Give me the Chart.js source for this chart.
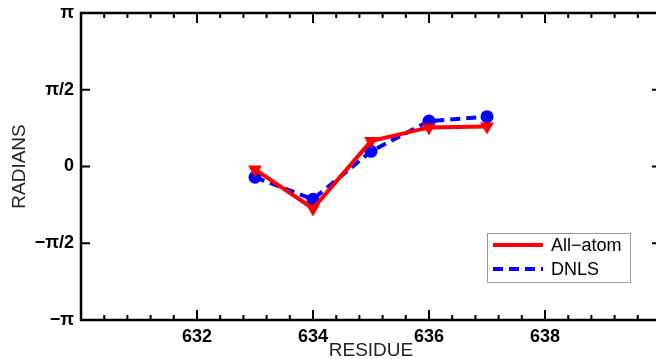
<!DOCTYPE html>
<html><head><meta charset="utf-8">
<script src="https://cdn.jsdelivr.net/npm/chart.js@4/dist/chart.umd.min.js"></script>
<style>html,body{margin:0;padding:0;overflow:hidden;background:#fff}canvas{display:block}</style>
</head><body>
<canvas id="c" width="680" height="359" style="width:680px;height:359px"></canvas>
<script>
const residues = [633, 634, 635, 636, 637];
const allAtom = [-0.06, -0.86, 0.52, 0.80, 0.82];
const dnls = [-0.22, -0.67, 0.31, 0.93, 1.02];
const xTickValues = [632, 634, 636, 638];
const yTickValues = [-Math.PI, -Math.PI/2, 0, Math.PI/2, Math.PI];
const yTickLabels = ['−π', '−π/2', '0', 'π/2', 'π'];
const seriesNames = ['All−atom', 'DNLS'];

const FONT = '"Liberation Sans", Arial, sans-serif';

const frame = {
  id: 'frame',
  afterDatasetsDraw(chart) {
    const ctx = chart.ctx, a = chart.chartArea;
    const xs = chart.scales.x, ys = chart.scales.y;
    ctx.save();
    ctx.strokeStyle = '#000';
    ctx.lineWidth = 2.5;
    ctx.strokeRect(a.left, a.top, a.right - a.left, a.bottom - a.top);
    ctx.lineWidth = 2;
    for (let i = 0; i <= 25; i++) {
      const v = 630 + i * 0.4;
      const px = xs.getPixelForValue(v);
      const major = i % 5 === 0;
      const len = major ? 10 : 5;
      ctx.beginPath();
      ctx.moveTo(px, a.bottom); ctx.lineTo(px, a.bottom - len);
      ctx.moveTo(px, a.top); ctx.lineTo(px, a.top + len);
      ctx.stroke();
    }
    yTickValues.forEach(v => {
      const py = ys.getPixelForValue(v);
      ctx.beginPath();
      ctx.moveTo(a.left, py); ctx.lineTo(a.left + 9, py);
      ctx.moveTo(a.right, py); ctx.lineTo(a.right - 9, py);
      ctx.stroke();
    });
    const bx = 487, by = 233, bw = 143, bh = 49;
    ctx.fillStyle = '#fff';
    ctx.fillRect(bx, by, bw, bh);
    ctx.strokeStyle = '#999';
    ctx.lineWidth = 1;
    ctx.strokeRect(bx + 0.5, by + 0.5, bw, bh);
    chart.data.datasets.forEach((ds, i) => {
      const y = 245 + i * 24;
      ctx.strokeStyle = ds.borderColor;
      ctx.lineWidth = 4;
      ctx.setLineDash(ds.borderDash || []);
      ctx.beginPath(); ctx.moveTo(493, y); ctx.lineTo(543, y); ctx.stroke();
      ctx.setLineDash([]);
      ctx.fillStyle = '#000';
      ctx.font = '18px ' + FONT;
      ctx.textBaseline = 'middle';
      ctx.fillText(ds.label, 551, y + 1);
    });
    ctx.restore();
  }
};

new Chart(document.getElementById('c'), {
  type: 'line',
  data: {
    datasets: [
      {
        label: seriesNames[0],
        data: residues.map((r, i) => ({x: r, y: allAtom[i]})),
        borderColor: '#ff0000', backgroundColor: '#ff0000',
        borderWidth: 4, pointStyle: 'triangle', rotation: 180,
        pointRadius: 8, pointBorderWidth: 0, tension: 0
      },
      {
        label: seriesNames[1],
        data: residues.map((r, i) => ({x: r, y: dnls[i]})),
        borderColor: '#0000ff', backgroundColor: '#0000ff',
        borderWidth: 4, borderDash: [10, 6], pointStyle: 'circle',
        pointRadius: 6.5, pointBorderWidth: 0, tension: 0
      }
    ]
  },
  options: {
    responsive: false, animation: false,
    layout: {padding: {top: 13, right: 19, left: 0, bottom: 0}},
    plugins: {legend: {display: false}, tooltip: {enabled: false}},
    scales: {
      x: {
        type: 'linear', min: 630, max: 640,
        grid: {display: false, drawTicks: false}, border: {display: false},
        afterBuildTicks: s => { s.ticks = xTickValues.map(v => ({value: v})); },
        ticks: {color: '#000', font: {family: FONT, size: 18, weight: 'bold'}, padding: 6, maxRotation: 0,
          callback: v => String(v)},
        title: {display: true, text: 'RESIDUE', color: '#222', font: {family: FONT, size: 19}, padding: {top: 0, bottom: -3}},
        afterFit: s => { s.height = 39; s.paddingLeft = 0; s.paddingRight = 0; }
      },
      y: {
        type: 'linear', min: -Math.PI, max: Math.PI,
        grid: {display: false, drawTicks: false}, border: {display: false},
        afterBuildTicks: s => { s.ticks = yTickValues.map(v => ({value: v})); },
        ticks: {color: '#000', font: {family: FONT, size: 18, weight: 'bold'}, padding: 7,
          callback: (v, i) => yTickLabels[i]},
        title: {display: true, text: 'RADIANS', color: '#222', font: {family: FONT, size: 19}, padding: {top: 8, bottom: 0}},
        afterFit: s => { s.width = 81; s.paddingTop = 0; s.paddingBottom = 0; }
      }
    }
  },
  plugins: [frame]
});
</script>
</body></html>
